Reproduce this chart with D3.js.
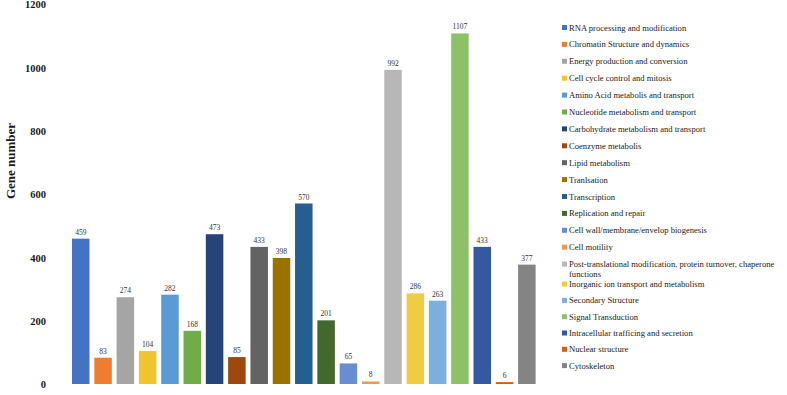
<!DOCTYPE html>
<html><head><meta charset="utf-8">
<script src="https://cdn.jsdelivr.net/npm/d3@7"></script>
<style>body{margin:0;background:#fff}svg{display:block}</style>
</head><body>
<script>
const categories = ["RNA processing and modification","Chromatin Structure and dynamics","Energy production and conversion","Cell cycle control and mitosis","Amino Acid metabolis and transport","Nucleotide metabolism and transport","Carbohydrate metabolism and transport","Coenzyme metabolis","Lipid metabolism","Tranlsation","Transcription","Replication and repair","Cell wall/membrane/envelop biogenesis","Cell motility","Post-translational modification, protein turnover, chaperone functions","Inorganic ion transport and metabolism","Secondary Structure","Signal Transduction","Intracellular trafficing and secretion","Nuclear structure","Cytoskeleton"];
const values = [459,83,274,104,282,168,473,85,433,398,570,201,65,8,992,286,263,1107,433,6,377];
const colors = ["#4472C4","#ED7D31","#A5A5A5","#F2C230","#5B9BD5","#70AD47","#264478","#9E480E","#636363","#997300","#255E91","#43682B","#698ED0","#F1975A","#B7B7B7","#F0CC44","#7CAFDD","#8CC168","#335AA1","#D26012","#848484"];
const yTicks = [0,200,400,600,800,1000,1200];
const yTitle = "Gene number";

const W=787,H=395, FONT="'Liberation Serif', 'DejaVu Serif', serif";
const svg=d3.select("body").append("svg").attr("width",W).attr("height",H);
const x=d3.scaleBand().domain(categories).range([69.6,538]).paddingInner(0.215).paddingOuter(0.1075);
const y=d3.scaleLinear().domain([0,1200]).range([384,4]);

// y axis labels
const ax=svg.append("g").attr("transform","translate(46,0)")
  .call(d3.axisLeft(y).tickValues(yTicks).tickSize(0).tickPadding(0).tickFormat(d3.format("d")));
ax.select(".domain").remove();
ax.selectAll("text").attr("font-family",FONT).attr("font-weight","bold").attr("font-size",10.5).attr("fill","#1a1a1a").attr("dy","0.35em");

svg.append("text").attr("transform","translate(15,161) rotate(-90)").attr("text-anchor","middle")
  .attr("font-family",FONT).attr("font-weight","bold").attr("font-size",13).attr("fill","#1a1a1a").text(yTitle);

// bars
svg.append("g").selectAll("rect").data(values).join("rect")
  .attr("x",(d,i)=>x(categories[i])).attr("width",x.bandwidth())
  .attr("y",d=>y(d)).attr("height",d=>y(0)-y(d)).attr("fill",(d,i)=>colors[i]);
svg.append("g").selectAll("text").data(values).join("text")
  .attr("x",(d,i)=>x(categories[i])+x.bandwidth()/2).attr("y",d=>y(d)-4)
  .attr("text-anchor","middle").attr("font-family",FONT).attr("font-size",7.5).attr("fill","#333").text(d=>d);

// legend
const lg=svg.append("g");
let ly=27.5;
categories.forEach((c,i)=>{
  const g=lg.append("g").attr("transform",`translate(0,${ly})`);
  g.append("rect").attr("x",562).attr("y",-2.5).attr("width",5).attr("height",5).attr("fill",colors[i]);
  const t=g.append("text").attr("x",569).attr("y",0).attr("dy","0.35em").attr("font-family",FONT).attr("font-size",8.6).attr("fill","#222");
  if(i===14){
    t.append("tspan").attr("x",569).text("Post-translational modification, protein turnover, chaperone");
    t.append("tspan").attr("x",569).attr("dy","1.2em").text("functions");
    ly+=20;
  } else { t.text(c); ly+= (i<14?16.9:16.3); }
});
</script>
</body></html>
